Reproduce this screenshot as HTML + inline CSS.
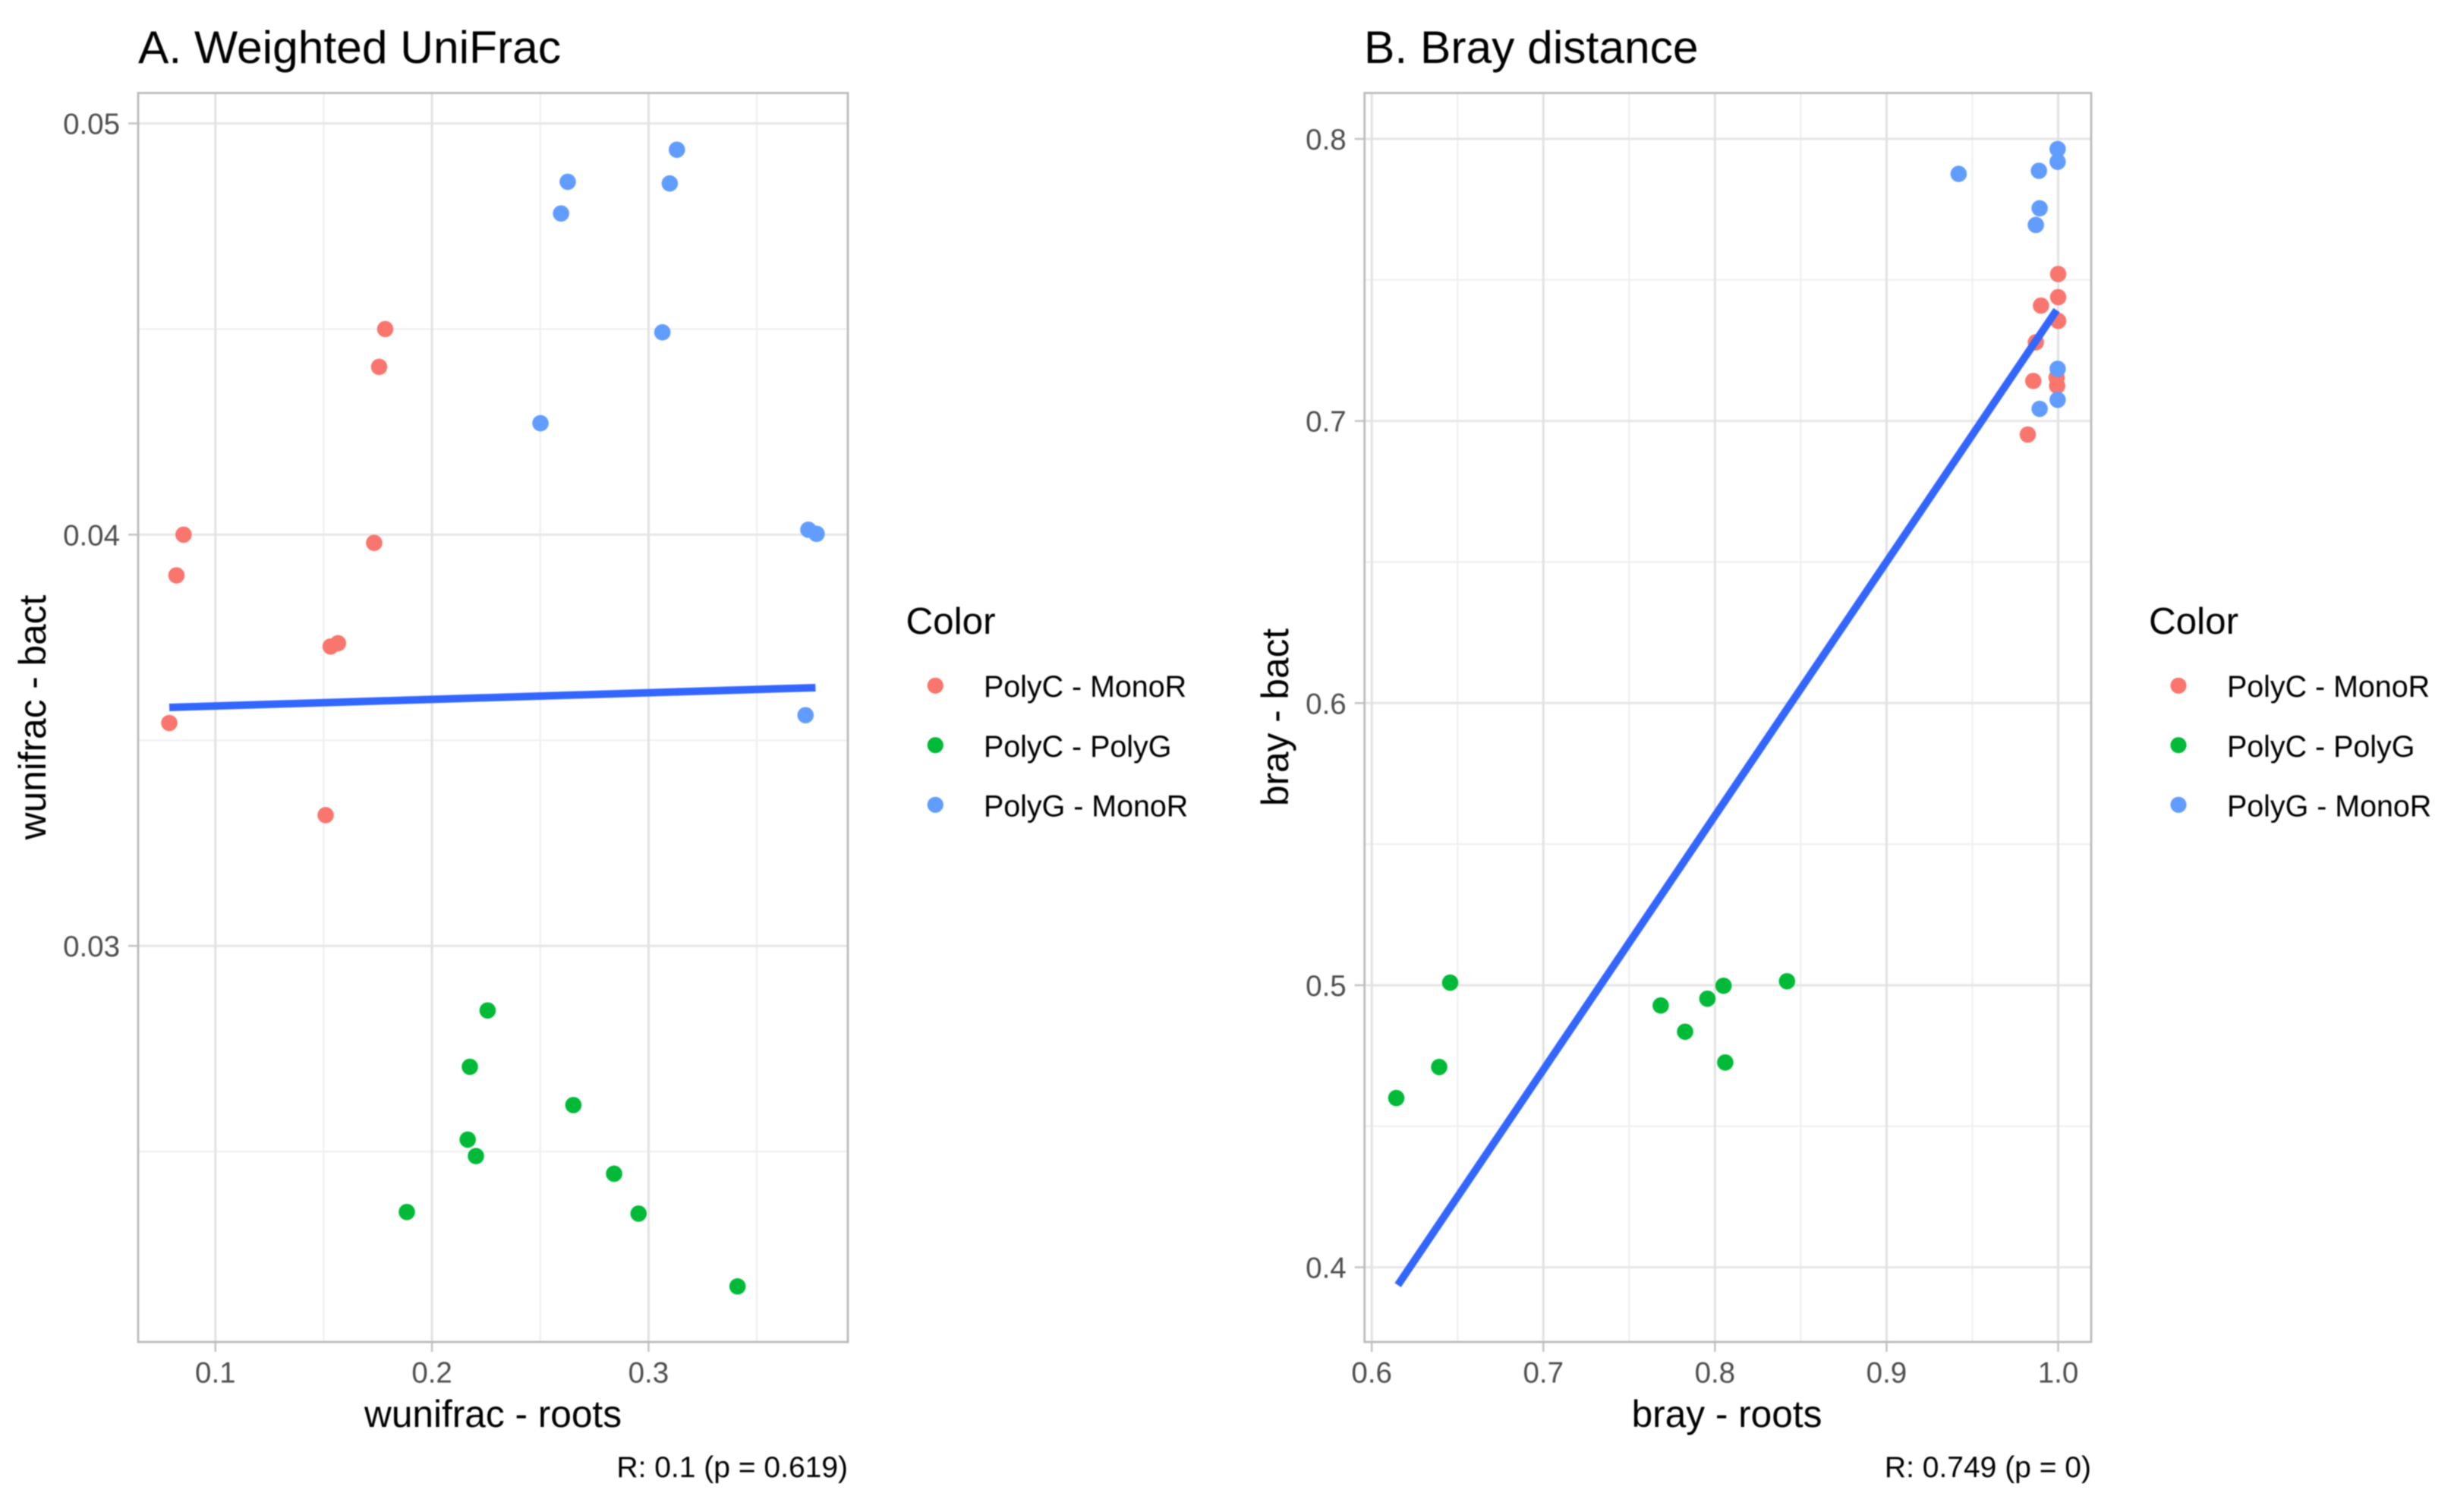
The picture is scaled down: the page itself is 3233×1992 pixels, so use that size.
<!DOCTYPE html>
<html lang="en">
<head>
<meta charset="utf-8">
<title>Weighted UniFrac and Bray distance correlations</title>
<style>
html,body{margin:0;padding:0;background:#fff;}
svg{display:block;font-family:"Liberation Sans",sans-serif;filter:blur(0.8px);}
.title{font-size:60.5px;fill:#000;}
.axis-title{font-size:49.6px;fill:#000;text-anchor:middle;}
.caption{font-size:39px;fill:#000;text-anchor:end;}
.legend-title{font-size:49.4px;fill:#000;}
.legend-label{font-size:39.4px;fill:#000;}
.tick-label{font-size:38.5px;fill:#4d4d4d;}
</style>
</head>
<body>
<svg id="chart" xmlns="http://www.w3.org/2000/svg" width="3233" height="1992" viewBox="0 0 3233 1992">
  <rect x="0" y="0" width="3233" height="1992" fill="#ffffff"/>
  <text class="title" x="182" y="83">A. Weighted UniFrac</text>
  <text class="title" x="1797" y="83">B. Bray distance</text>
  <text class="axis-title" x="649.5" y="1880">wunifrac - roots</text>
  <text class="axis-title" x="2275" y="1880">bray - roots</text>
  <text class="axis-title" transform="translate(60 945) rotate(-90)">wunifrac - bact</text>
  <text class="axis-title" transform="translate(1697 945) rotate(-90)">bray - bact</text>
  <text class="caption" x="1117" y="1946">R: 0.1 (p = 0.619)</text>
  <text class="caption" x="2755" y="1946">R: 0.749 (p = 0)</text>

  <g>
    <text class="legend-title" x="1193.5" y="835">Color</text>
    <circle cx="1232.3" cy="903.3" r="10.6" fill="#F8766D"/>
    <text class="legend-label" x="1296" y="918">PolyC - MonoR</text>
    <circle cx="1232.3" cy="981.7" r="10.6" fill="#00BA38"/>
    <text class="legend-label" x="1296" y="997">PolyC - PolyG</text>
    <circle cx="1232.3" cy="1060.3" r="10.6" fill="#619CFF"/>
    <text class="legend-label" x="1296" y="1075.5">PolyG - MonoR</text>
  </g>
  <g>
    <text class="legend-title" x="2831" y="835">Color</text>
    <circle cx="2870" cy="903.3" r="10.6" fill="#F8766D"/>
    <text class="legend-label" x="2934" y="918">PolyC - MonoR</text>
    <circle cx="2870" cy="981.7" r="10.6" fill="#00BA38"/>
    <text class="legend-label" x="2934" y="997">PolyC - PolyG</text>
    <circle cx="2870" cy="1060.3" r="10.6" fill="#619CFF"/>
    <text class="legend-label" x="2934" y="1075.5">PolyG - MonoR</text>
  </g>
</svg>
<script>
// Panel A values: Weighted UniFrac
const aXTicks = ['0.1', '0.2', '0.3'];
const aXMinorTicks = [0.15, 0.25, 0.35];
const aYTicks = ['0.03', '0.04', '0.05'];
const aYMinorTicks = [0.025, 0.035, 0.045];
const aMonoCX = [0.1784, 0.1756, 0.0853, 0.0820, 0.1733, 0.1566, 0.1532, 0.0787, 0.1509];
const aMonoCY = [0.0450, 0.04408, 0.0400, 0.03901, 0.0398, 0.03736, 0.03728, 0.03542, 0.03318];
const aPolyGX = [0.2257, 0.2175, 0.2653, 0.2165, 0.2203, 0.2841, 0.1884, 0.2954, 0.3411];
const aPolyGY = [0.02843, 0.02706, 0.02613, 0.02529, 0.02489, 0.02446, 0.02353, 0.02349, 0.02172];
const aMonoGX = [0.3131, 0.2627, 0.3098, 0.2596, 0.3064, 0.2501, 0.3738, 0.3776, 0.3725];
const aMonoGY = [0.04936, 0.04858, 0.04854, 0.04781, 0.04492, 0.04271, 0.04012, 0.04002, 0.03561];
const aFitX = [0.0787, 0.3771];
const aFitY = [0.03580, 0.03628];

// Panel B values: Bray distance
const bXTicks = ['0.6', '0.7', '0.8', '0.9', '1.0'];
const bXMinorTicks = [0.65, 0.75, 0.85, 0.95];
const bYTicks = ['0.4', '0.5', '0.6', '0.7', '0.8'];
const bYMinorTicks = [0.45, 0.55, 0.65, 0.75];
const bMonoCX = [1.0, 1.0, 0.99, 1.0, 0.987, 0.9855, 0.9991, 0.9994, 0.9823];
const bMonoCY = [0.7521, 0.7439, 0.7409, 0.7355, 0.7279, 0.7142, 0.7154, 0.7125, 0.6952];
const bPolyGX = [0.6457, 0.6393, 0.6143, 0.7684, 0.7826, 0.7956, 0.8050, 0.8420, 0.8060];
const bPolyGY = [0.5009, 0.4710, 0.4600, 0.4928, 0.4835, 0.4952, 0.4998, 0.5014, 0.4726];
const bMonoGX = [0.9420, 0.9997, 0.9997, 0.9888, 0.9892, 0.9870, 0.9997, 0.9997, 0.9892];
const bMonoGY = [0.7876, 0.7964, 0.7919, 0.7887, 0.7754, 0.7695, 0.7185, 0.7075, 0.7043];
const bFitX = [0.6152, 0.9991];
const bFitY = [0.3937, 0.7393];

const SVG_NS = 'http://www.w3.org/2000/svg';
const chart = document.getElementById('chart');

function make(tag, parent, attrs) {
  const node = document.createElementNS(SVG_NS, tag);
  for (const key in attrs) node.setAttribute(key, attrs[key]);
  parent.appendChild(node);
  return node;
}

// Axis functions
const xA = v => 283.8 + (v - 0.1) * 2853;
const yA = v => 162.6 + (0.05 - v) * 54180;
const xB = v => 1807.2 + (v - 0.6) * 2260.75;
const yB = v => 183 + (0.8 - v) * 3716.5;

function drawPanel(p) {
  const group = make('g', chart, {});
  
  

  p.yMinor.forEach(v => {
    const line = make('line', group, {x1: p.left, x2: p.right, y1: p.y(v), y2: p.y(v), stroke: '#f0f0f0', 'stroke-width': 2.2});
    
    
  });
  p.xMinor.forEach(v => {
    const line = make('line', group, {x1: p.x(v), x2: p.x(v), y1: p.top, y2: p.bottom, stroke: '#efefef', 'stroke-width': 2.2});
    
    
  });
  p.yTicks.forEach(label => {
    const v = parseFloat(label);
    const grid = make('line', group, {x1: p.left, x2: p.right, y1: p.y(v), y2: p.y(v), stroke: '#e6e6e6', 'stroke-width': 3});
    
    
    const tick = make('line', group, {x1: p.left - 13, x2: p.left, y1: p.y(v), y2: p.y(v), stroke: '#c4c4c4', 'stroke-width': 2.5});
    
    
    const text = make('text', group, {x: p.left - 24, y: p.y(v) + 14, 'text-anchor': 'end', class: 'tick-label'});
    
    
    text.textContent = label;
  });
  p.xTicks.forEach(label => {
    const v = parseFloat(label);
    const grid = make('line', group, {x1: p.x(v), x2: p.x(v), y1: p.top, y2: p.bottom, stroke: '#e2e2e2', 'stroke-width': 3});
    
    
    const tick = make('line', group, {x1: p.x(v), x2: p.x(v), y1: p.bottom, y2: p.bottom + 13, stroke: '#c4c4c4', 'stroke-width': 2.5});
    
    
    const text = make('text', group, {x: p.x(v), y: 1821.5, 'text-anchor': 'middle', class: 'tick-label'});
    
    
    text.textContent = label;
  });

  p.series.forEach(s => {
    const seriesGroup = make('g', group, {fill: s.color});
    
    
    s.xs.forEach((xv, i) => {
      const dot = make('circle', seriesGroup, {cx: p.x(xv), cy: p.y(s.ys[i]), r: 10.8});
      
      
    });
  });

  const fit = make('line', group, {
    x1: p.x(p.fitX[0]), y1: p.y(p.fitY[0]),
    x2: p.x(p.fitX[1]), y2: p.y(p.fitY[1]),
    stroke: '#3366FF', 'stroke-width': 10
  });
  
  

  const border = make('rect', group, {
    x: p.left, y: p.top, width: p.right - p.left, height: p.bottom - p.top,
    fill: 'none', stroke: '#bcbcbc', 'stroke-width': 2.8
  });
  
  
}

drawPanel({
  id: 'panel-a', left: 182, right: 1117, top: 122.5, bottom: 1768, x: xA, y: yA,
  xTicks: aXTicks, xMinor: aXMinorTicks, yTicks: aYTicks, yMinor: aYMinorTicks,
  fitX: aFitX, fitY: aFitY,
  series: [
    {key: 'polyc-monor', color: '#F8766D', xs: aMonoCX, ys: aMonoCY},
    {key: 'polyc-polyg', color: '#00BA38', xs: aPolyGX, ys: aPolyGY},
    {key: 'polyg-monor', color: '#619CFF', xs: aMonoGX, ys: aMonoGY}
  ]
});

drawPanel({
  id: 'panel-b', left: 1797.7, right: 2755, top: 122.5, bottom: 1768, x: xB, y: yB,
  xTicks: bXTicks, xMinor: bXMinorTicks, yTicks: bYTicks, yMinor: bYMinorTicks,
  fitX: bFitX, fitY: bFitY,
  series: [
    {key: 'polyc-monor', color: '#F8766D', xs: bMonoCX, ys: bMonoCY},
    {key: 'polyc-polyg', color: '#00BA38', xs: bPolyGX, ys: bPolyGY},
    {key: 'polyg-monor', color: '#619CFF', xs: bMonoGX, ys: bMonoGY}
  ]
});
</script>
</body>
</html>
